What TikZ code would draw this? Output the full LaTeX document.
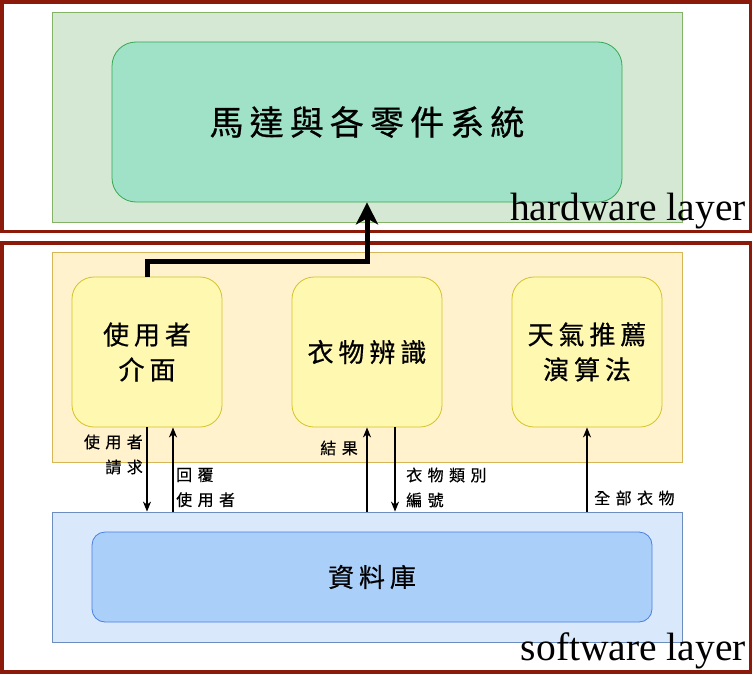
\documentclass[tikz,border=0pt]{standalone}
\usepackage{fontspec}
\setmainfont{Liberation Serif}
\newfontfamily\cjk[LetterSpace=19,FakeBold=0.6]{Noto Sans CJK TC}
\newfontfamily\cjkt[LetterSpace=18,FakeBold=0.6]{Noto Sans CJK TC}
\newfontfamily\cjks[LetterSpace=34,FakeBold=0.5]{Noto Sans CJK TC}
\usetikzlibrary{arrows.meta,calc}
\definecolor{frameRed}{HTML}{8C1A0B}
\definecolor{hwFill}{HTML}{D5E8D4}
\definecolor{hwLine}{HTML}{82B366}
\definecolor{motorFill}{HTML}{A0E2C8}
\definecolor{motorLine}{HTML}{36A852}
\definecolor{swFill}{HTML}{FFF2CC}
\definecolor{swLine}{HTML}{D6B656}
\definecolor{modFill}{HTML}{FFF8B0}
\definecolor{modLine}{HTML}{D4C22A}
\definecolor{dbFill}{HTML}{DAE8FC}
\definecolor{dbLine}{HTML}{6C8EBF}
\definecolor{dbInFill}{HTML}{AAD0FA}
\definecolor{dbInLine}{HTML}{4A7FE0}
\tikzset{
  frame/.style={draw=frameRed, line width=3.5pt, inner sep=0pt},
  region/.style={inner sep=0pt, line width=0.8pt},
  modbox/.style={draw=modLine, fill=modFill, line width=0.8pt, rounded corners=22pt,
    minimum width=150pt, minimum height=150pt, inner sep=0pt, align=center,
    font=\cjk\fontsize{26}{35}\selectfont},
  lbl/.style={inner sep=0pt, font=\cjks\fontsize{16}{25}\selectfont},
  thinarrow/.style={draw=black, line width=1.2pt, -{Stealth[length=10pt,width=8pt,inset=3pt]}},
  thickarrow/.style={draw=black, line width=5pt, -{Stealth[length=22pt,width=22pt,inset=6pt]}},
  layertext/.style={inner sep=0pt, font=\fontsize{39.5}{40}\selectfont, anchor=base east}
}
\begin{document}
\begin{tikzpicture}[x=1pt,y=-1pt]
\useasboundingbox (0,0) rectangle (754,674);
\fill[white] (0,0) rectangle (754,674);
% layer frames
\node[frame, minimum width=748.5pt, minimum height=229.5pt] (hwframe) at (376.25,116.75) {};
\node[frame, minimum width=748.5pt, minimum height=429pt] (swframe) at (376.25,457.5) {};
% background regions
\node[region, draw=hwLine, fill=hwFill, minimum width=630pt, minimum height=210pt] (hwbg) at (367,117) {};
\node[region, draw=swLine, fill=swFill, minimum width=630pt, minimum height=210pt] (ybg) at (367,357) {};
\node[region, draw=dbLine, fill=dbFill, minimum width=630pt, minimum height=130pt] (bbg) at (367,577) {};
% main boxes
\node[draw=motorLine, fill=motorFill, line width=0.8pt, rounded corners=24pt,
  minimum width=510pt, minimum height=160pt, inner sep=0pt,
  font=\cjkt\fontsize{34}{36}\selectfont] (hw) at (367,122) {馬達與各零件系統};
\node[modbox] (ui) at (147,352) {使用者\\介面};
\node[modbox] (cloth) at (367,352) {衣物辨識};
\node[modbox] (weather) at (587,352) {天氣推薦\\演算法};
\node[draw=dbInLine, fill=dbInFill, line width=0.8pt, rounded corners=13pt,
  minimum width=560pt, minimum height=90pt, inner sep=0pt,
  font=\cjk\fontsize{26}{30}\selectfont] (db) at (372,577) {資料庫};
% layer labels
\node[layertext] (hwtext) at (746,220) {hardware layer};
\node[layertext] (swtext) at (746,660) {software layer};
% connectors
\draw[thickarrow] (ui.north) -- ++(0,-15) -| (hw.south);
\draw[thinarrow] (ui.south) -- (ui.south |- bbg.north);
\draw[thinarrow] ($(ui.south |- bbg.north)+(26,0)$) -- ($(ui.south)+(26,0)$);
\draw[thinarrow] (cloth.south |- bbg.north) -- (cloth.south);
\draw[thinarrow] ($(cloth.south)+(28,0)$) -- ($(cloth.south |- bbg.north)+(28,0)$);
\draw[thinarrow] (weather.south |- bbg.north) -- (weather.south);
% connector labels
\node[lbl, anchor=east, align=right] (reqlbl) at (143,454.5) {使用者\\請求};
\node[lbl, anchor=west, align=left] (replbl) at (176,487.5) {回覆\\使用者};
\node[lbl, anchor=east] (reslbl) at (358,448) {結果};
\node[lbl, anchor=west, align=left] (idlbl) at (406,487.5) {衣物類別\\編號};
\node[lbl, anchor=west] (alllbl) at (594,498) {全部衣物};
\end{tikzpicture}
\end{document}
